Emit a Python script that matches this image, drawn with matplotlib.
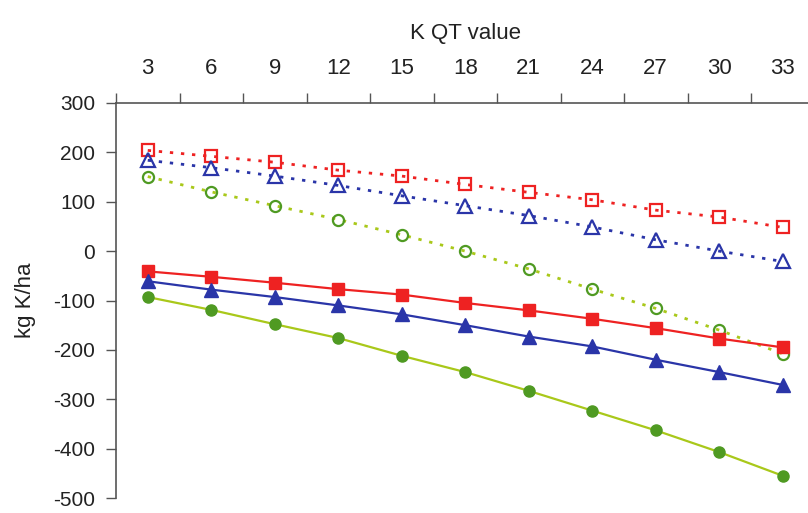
import numpy as np
import matplotlib
matplotlib.use('Agg')
import matplotlib.pyplot as plt

plt.rcParams['font.family'] = ['Liberation Sans', 'DejaVu Sans']
plt.rcParams['font.size'] = 16
plt.rcParams['axes.unicode_minus'] = False

# K QT values (categories) and series values (kg K/ha)
kqt = [3, 6, 9, 12, 15, 18, 21, 24, 27, 30, 33]
red_open = [204, 192, 180, 164, 152, 135, 119, 104, 83, 69, 48]
blue_open = [184, 169, 152, 133, 112, 92, 72, 49, 23, 0, -21]
green_open = [151, 120, 92, 64, 33, 0, -36, -77, -116, -160, -208]
red_fill = [-41, -52, -64, -77, -88, -105, -120, -137, -156, -177, -195]
blue_fill = [-61, -78, -93, -110, -128, -150, -173, -193, -220, -245, -271]
green_fill = [-93, -119, -148, -176, -212, -245, -283, -323, -363, -407, -455]

red = '#ee2222'
blue = '#2a35a8'
green_mk = '#4f9a22'
green_ln = '#a9c81a'
dots = (0, (1.2, 2.8))

fig = plt.figure(figsize=(8.08, 5.13), dpi=100)
ax = fig.add_axes([116 / 808, 15 / 513, 698.5 / 808, 395 / 513])

x = np.arange(len(kqt))

# dotted series with open markers
ax.plot(x, red_open, ls=dots, lw=2, color=red, marker='s', ms=9,
        mfc='none', mec=red, mew=1.6)
ax.plot(x, blue_open, ls=dots, lw=2, color=blue, marker='^', ms=10,
        mfc='none', mec=blue, mew=1.6)
ax.plot(x, green_open, ls=dots, lw=2, color=green_ln, marker='o', ms=8,
        mfc='none', mec=green_mk, mew=1.6)

# solid series with filled markers
ax.plot(x, red_fill, ls='-', lw=1.6, color=red, marker='s', ms=9,
        mfc=red, mec=red)
ax.plot(x, blue_fill, ls='-', lw=1.6, color=blue, marker='^', ms=10,
        mfc=blue, mec=blue)
ax.plot(x, green_fill, ls='-', lw=1.6, color=green_ln, marker='o', ms=8,
        mfc=green_mk, mec=green_mk)

ax.set_xlim(-0.5, len(kqt) - 0.5)
ax.set_ylim(-500, 300)
ax.set_yticks(np.arange(-500, 301, 100))

# category axis on top: ticks between categories, labels centred
ax.xaxis.tick_top()
ax.xaxis.set_label_position('top')
ax.set_xticks(np.arange(-0.5, len(kqt), 1.0))
ax.set_xticklabels([])
ax.set_xticks(x, minor=True)
ax.set_xticklabels([str(k) for k in kqt], minor=True)
ax.tick_params(axis='x', which='major', direction='out', length=7, width=1, color='#555555')
ax.tick_params(axis='x', which='minor', length=0, pad=17, labelsize=16, labelcolor='#222222')
ax.tick_params(axis='y', direction='out', length=7, width=1, color='#555555',
               labelsize=15, pad=8, labelcolor='#222222')
ax.set_xlabel('K QT value', fontsize=16, labelpad=14, color='#222222')
ax.set_ylabel('kg K/ha', fontsize=16, labelpad=12, color='#222222')

for s in ['right', 'bottom']:
    ax.spines[s].set_visible(False)
for s in ['left', 'top']:
    ax.spines[s].set_color('#555555')
    ax.spines[s].set_linewidth(1.2)

fig.savefig('out.png', dpi=100)
